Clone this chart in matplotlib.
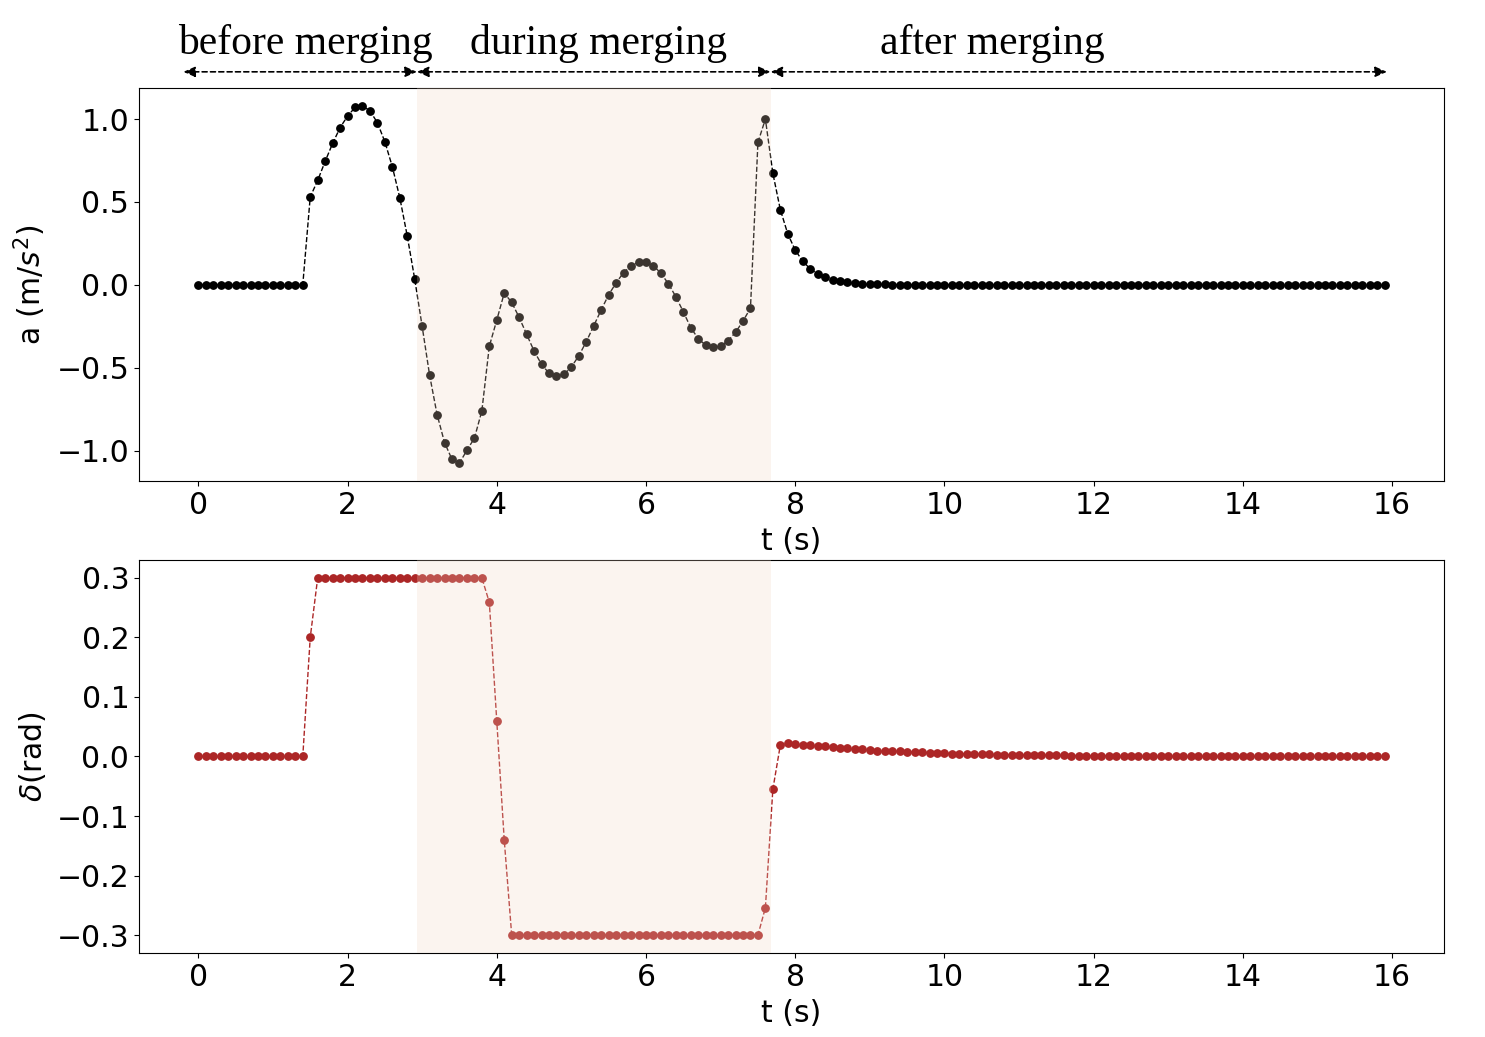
import numpy as np
import matplotlib
matplotlib.use("Agg")
import matplotlib.pyplot as plt

# ---- data ----
dt = 0.1
acc_values = ([0.0] * 15 +
              [0.53, 0.63, 0.745, 0.853, 0.948, 1.018, 1.070, 1.080, 1.050, 0.978,
               0.863, 0.713, 0.526, 0.295, 0.035, -0.251, -0.546, -0.783, -0.952, -1.054,
               -1.076, -0.998, -0.926, -0.761, -0.371, -0.213, -0.050, -0.106, -0.197, -0.299,
               -0.400, -0.480, -0.534, -0.552, -0.540, -0.496, -0.428, -0.343, -0.247, -0.151,
               -0.060, 0.012, 0.074, 0.114, 0.137, 0.137, 0.114, 0.070, 0.006, -0.072,
               -0.163, -0.259, -0.325, -0.365, -0.377, -0.371, -0.337, -0.287, -0.219, -0.141,
               0.859, 1.000, 0.673, 0.454, 0.307, 0.209, 0.143, 0.096, 0.066, 0.044,
               0.030, 0.020, 0.014, 0.009, 0.006, 0.004, 0.003, 0.002, 0.001, 0.001] +
              [0.0] * 65)

steer_values = ([0.0] * 15 + [0.2] + [0.3] * 23 + [0.259, 0.059, -0.140] + [-0.3] * 34 +
                [-0.254, -0.055, 0.019, 0.022,
                 0.021, 0.020, 0.019, 0.018, 0.017, 0.016, 0.015, 0.014, 0.013, 0.012,
                 0.011, 0.010, 0.0095, 0.009, 0.0085, 0.008, 0.0075, 0.007, 0.0065, 0.006,
                 0.0055, 0.005, 0.0047, 0.0044, 0.0041, 0.0038, 0.0035, 0.0032, 0.003, 0.0028,
                 0.0026, 0.0024, 0.0022, 0.002, 0.0019, 0.0018, 0.0017, 0.0016, 0.0015, 0.0014,
                 0.0013, 0.0012, 0.0011] + [0.0] * 37)

phase_bounds = [2.93, 7.67]
phase_labels = ["before merging", "during merging", "after merging"]
phase_label_x = [1.43, 5.36, 10.64]
arrow_segments = [(-0.2, 2.93), (2.93, 7.67), (7.67, 15.93)]

t_acc = np.arange(len(acc_values)) * dt
t_steer = np.arange(len(steer_values)) * dt

# ---- figure ----
fig = plt.figure(figsize=(14.85, 10.37), dpi=100)
ax1 = fig.add_axes([0.0936, 0.5362, 0.8788, 0.3790])
ax2 = fig.add_axes([0.0936, 0.0810, 0.8788, 0.3790])

fs = 21.5
span_color = (0.94, 0.84, 0.765)
span_alpha = 0.25

ax1.plot(t_acc, acc_values, color='black', linestyle='--', linewidth=1.0,
         marker='o', markersize=5.3, zorder=2)
ax1.axvspan(phase_bounds[0], phase_bounds[1], color=span_color, alpha=span_alpha,
            linewidth=0, zorder=3)
ax1.set_xlabel("t (s)", fontsize=fs, labelpad=5.5)
ax1.set_ylabel(r"a (m/$s^2$)", fontsize=fs, labelpad=6)
ax1.set_yticks([-1.0, -0.5, 0.0, 0.5, 1.0])
ax1.set_xticks(np.arange(0, 17, 2))

red = '#AC2626'
ax2.plot(t_steer, steer_values, color=red, linestyle='--', linewidth=1.0,
         marker='o', markersize=5.3, zorder=2)
ax2.axvspan(phase_bounds[0], phase_bounds[1], color=span_color, alpha=span_alpha,
            linewidth=0, zorder=3)
ax2.set_xlabel("t (s)", fontsize=fs, labelpad=5.5)
ax2.set_ylabel(r"$\delta$(rad)", fontsize=fs, labelpad=6)
ax2.set_yticks([-0.3, -0.2, -0.1, 0.0, 0.1, 0.2, 0.3])
ax2.set_xticks(np.arange(0, 17, 2))

for ax in (ax1, ax2):
    ax.tick_params(labelsize=fs)

# phase arrows and labels above top axes
for (x0, x1) in arrow_segments:
    ax1.annotate("", xy=(x1, 1.041), xytext=(x0, 1.041),
                 xycoords=('data', 'axes fraction'), textcoords=('data', 'axes fraction'),
                 arrowprops=dict(arrowstyle='<|-|>,head_length=0.5,head_width=0.22',
                                 linestyle=(0, (3, 2)), color='black', lw=1.2,
                                 shrinkA=0, shrinkB=0, mutation_scale=14),
                 annotation_clip=False)
for lbl, x in zip(phase_labels, phase_label_x):
    ax1.text(x, 1.112, lbl, transform=ax1.get_xaxis_transform(), ha='center', va='center',
             fontsize=30, family='Liberation Serif', clip_on=False)

fig.savefig("out.png", dpi=100)
